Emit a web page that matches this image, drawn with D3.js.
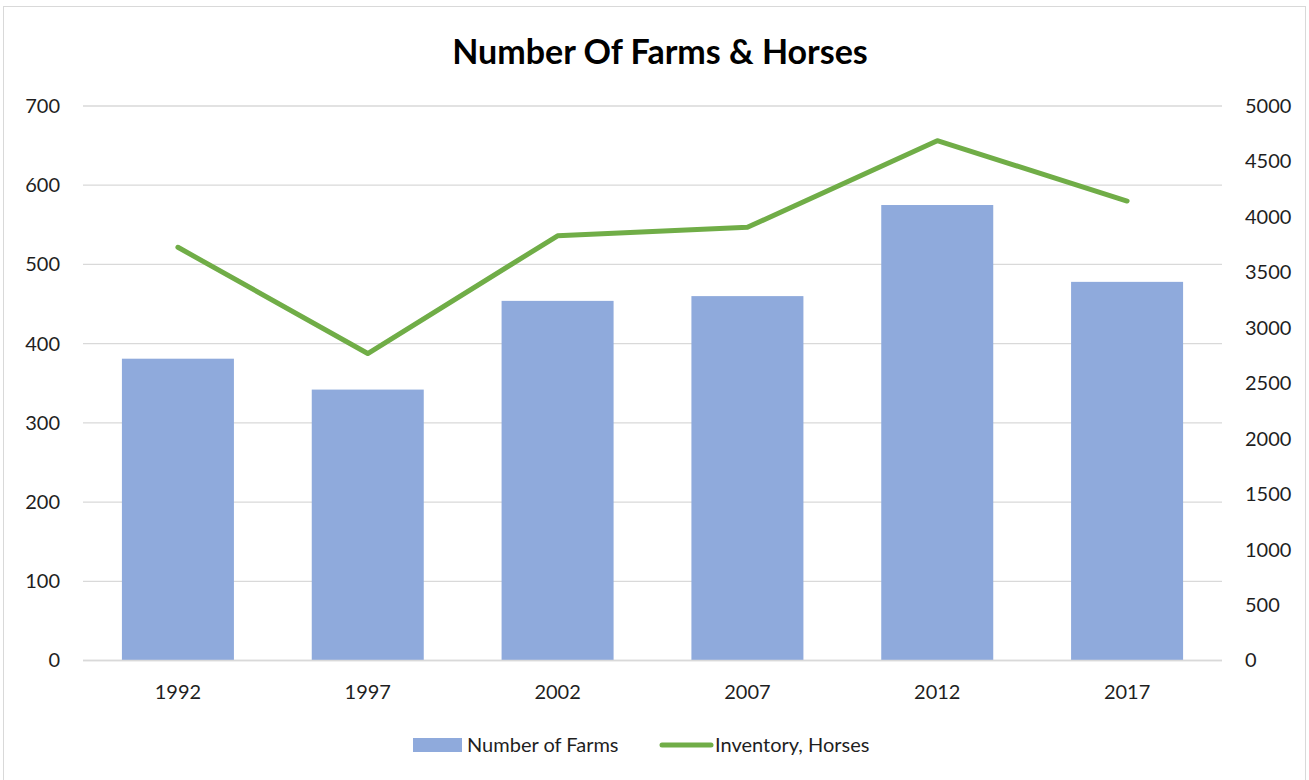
<!DOCTYPE html>
<html>
<head>
<meta charset="utf-8">
<script src="https://cdn.jsdelivr.net/npm/d3@7/dist/d3.min.js"></script>
<style>
  html, body { margin: 0; padding: 0; background: #fff; }
  svg { display: block; }
  svg text { font-family: Lato, "Open Sans", "Liberation Sans", sans-serif; }
</style>
</head>
<body>
<svg id="chart" width="1309" height="780"></svg>
<script>
// Census years
const years = ["1992", "1997", "2002", "2007", "2012", "2017"];
// Number of farms (left axis)
const farms = [381, 342, 454, 460, 575, 478];
// Horse inventory (right axis)
const horses = [3726, 2768, 3830, 3906, 4687, 4143];
// Axis ticks
const leftTicks = [0, 100, 200, 300, 400, 500, 600, 700];
const rightTicks = [0, 500, 1000, 1500, 2000, 2500, 3000, 3500, 4000, 4500, 5000];

const title = "Number Of Farms & Horses";
const seriesNames = ["Number of Farms", "Inventory, Horses"];

const W = 1309, H = 780;
const plot = { left: 83, right: 1222, top: 106, bottom: 660.5 };
const textColor = "#1f1f1f";
const tickSize = 20;

const svg = d3.select("#chart");

// Chart frame
svg.append("rect")
  .attr("x", 3.5).attr("y", 6.5)
  .attr("width", W - 7).attr("height", H)
  .attr("fill", "#fff")
  .attr("stroke", "#d9d9d9").attr("stroke-width", 1);

const x = d3.scaleBand().domain(years).range([plot.left, plot.right]).paddingInner(0.41).paddingOuter(0.205);
const yL = d3.scaleLinear().domain([0, 700]).range([plot.bottom, plot.top]);
const yR = d3.scaleLinear().domain([0, 5000]).range([plot.bottom, plot.top]);

// Gridlines
svg.append("g").selectAll("line").data(leftTicks).join("line")
  .attr("x1", plot.left).attr("x2", plot.right)
  .attr("y1", d => yL(d)).attr("y2", d => yL(d))
  .attr("stroke", "#d9d9d9").attr("stroke-width", 1.3);

function styleAxis(g) {
  g.attr("font-family", null).attr("font-size", null);
  g.select(".domain").remove();
  g.selectAll("text").attr("font-size", tickSize).attr("fill", textColor);
}

// Left axis
svg.append("g")
  .attr("transform", `translate(${plot.left - 23},0)`)
  .call(d3.axisLeft(yL).tickValues(leftTicks).tickSize(0).tickPadding(0).tickFormat(d3.format("d")))
  .call(styleAxis);

// Right axis
svg.append("g")
  .attr("transform", `translate(${plot.right + 23},0)`)
  .call(d3.axisRight(yR).tickValues(rightTicks).tickSize(0).tickPadding(0).tickFormat(d3.format("d")))
  .call(styleAxis);

// Bars
svg.append("g").selectAll("rect").data(farms).join("rect")
  .attr("x", (d, i) => x(years[i]))
  .attr("width", x.bandwidth())
  .attr("y", d => yL(d))
  .attr("height", d => yL(0) - yL(d))
  .attr("fill", "#8faadc");

// Baseline redrawn over bars
svg.append("line")
  .attr("x1", plot.left).attr("x2", plot.right)
  .attr("y1", yL(0)).attr("y2", yL(0))
  .attr("stroke", "#d9d9d9").attr("stroke-width", 1.3);

// Bottom axis
svg.append("g")
  .attr("transform", `translate(0,699)`)
  .call(d3.axisBottom(x).tickSize(0).tickPadding(0))
  .call(styleAxis)
  .selectAll("text").attr("dy", null).attr("y", 0);

// Horse inventory line
const line = d3.line()
  .x((d, i) => x(years[i]) + x.bandwidth() / 2)
  .y(d => yR(d));
svg.append("path")
  .datum(horses)
  .attr("d", line)
  .attr("fill", "none")
  .attr("stroke", "#70ad47")
  .attr("stroke-width", 5)
  .attr("stroke-linejoin", "round")
  .attr("stroke-linecap", "round");

// Title
svg.append("text")
  .attr("x", 660)
  .attr("y", 64)
  .attr("text-anchor", "middle")
  .attr("font-size", 34)
  .attr("font-weight", "bold")
  .attr("fill", "#000")
  .text(title);

// Legend
const legend = svg.append("g");
legend.append("rect")
  .attr("x", 413).attr("y", 738).attr("width", 49).attr("height", 14)
  .attr("fill", "#8faadc");
legend.append("text")
  .attr("x", 467).attr("y", 745).attr("dy", "0.35em")
  .attr("font-size", tickSize).attr("fill", textColor)
  .text(seriesNames[0]);
legend.append("line")
  .attr("x1", 662).attr("x2", 711).attr("y1", 745).attr("y2", 745)
  .attr("stroke", "#70ad47").attr("stroke-width", 5).attr("stroke-linecap", "round");
legend.append("text")
  .attr("x", 715).attr("y", 745).attr("dy", "0.35em")
  .attr("font-size", tickSize).attr("fill", textColor)
  .text(seriesNames[1]);
</script>
</body>
</html>
